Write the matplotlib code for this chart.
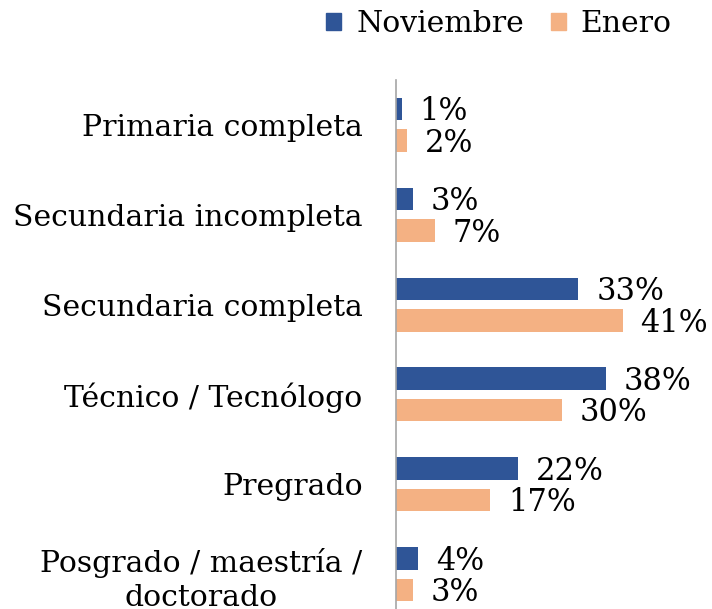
import numpy as np
import matplotlib.pyplot as plt
from matplotlib.patches import Patch

# data
categories = [
    "Primaria completa",
    "Secundaria incompleta",
    "Secundaria completa",
    "Técnico / Tecnólogo",
    "Pregrado",
    "Posgrado / maestría /\ndoctorado",
]
noviembre = [1, 3, 33, 38, 22, 4]
enero = [2, 7, 41, 30, 17, 3]
series_names = ["Noviembre", "Enero"]
colors = ["#2F5597", "#F4B183"]

plt.rcParams["font.family"] = ["DejaVu Serif"]

fig = plt.figure(figsize=(7.12, 6.09), dpi=100)
ax = fig.add_axes([396 / 712, 1 - 619 / 609, 316 / 712, 539 / 609])

y = np.arange(len(categories))
offset = 0.175
height = 0.25
for i, (vals, off) in enumerate(zip([noviembre, enero], [-offset, offset])):
    bars = ax.barh(y + off, vals, height=height, color=colors[i])
    for b, v in zip(bars, vals):
        ax.annotate(
            f"{v}%",
            (b.get_width(), b.get_y() + b.get_height() / 2),
            xytext=(13, -2),
            textcoords="offset points",
            va="center",
            ha="left",
            fontsize=22,
        )

ax.set_xlim(0, 57.2)
ax.set_ylim(len(categories) - 0.5, -0.5)
ax.set_yticks(y)
ax.set_yticklabels(categories, fontsize=21.5, multialignment="center", linespacing=1.25)
ax.tick_params(axis="y", length=0, pad=24)
ax.set_xticks([])
for s in ["top", "right", "bottom"]:
    ax.spines[s].set_visible(False)
ax.spines["left"].set_color("#A6A6A6")
ax.spines["left"].set_linewidth(1.2)

handles = [Patch(color=c) for c in colors]
fig.legend(
    handles,
    series_names,
    loc="center",
    bbox_to_anchor=(499 / 712, 1 - 24 / 609),
    ncol=2,
    frameon=False,
    fontsize=21.5,
    handlelength=0.5,
    handleheight=0.5,
    handletextpad=0.5,
    columnspacing=0.9,
)

plt.savefig("out.png", dpi=100)
